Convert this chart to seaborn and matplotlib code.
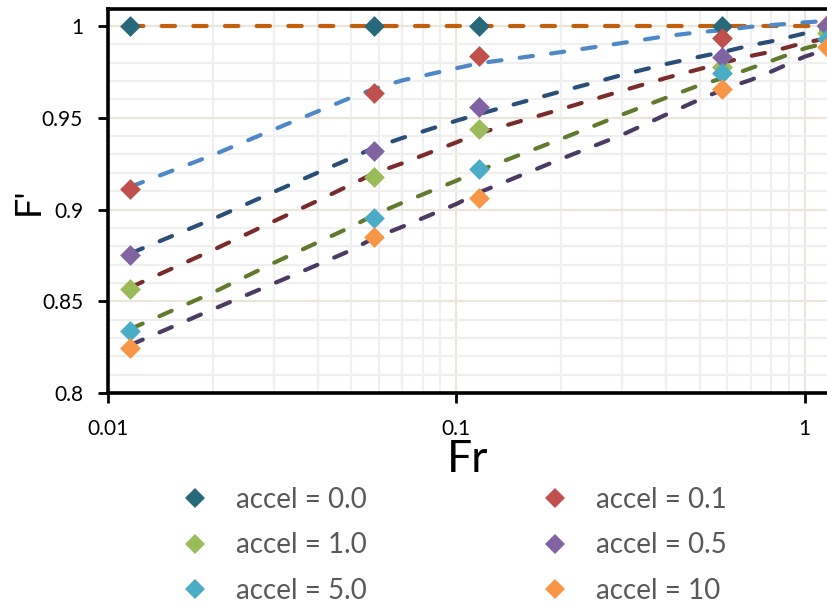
import matplotlib
matplotlib.use("Agg")
import matplotlib.pyplot as plt
from matplotlib.lines import Line2D
from matplotlib.ticker import MultipleLocator, LogLocator, NullFormatter
import seaborn as sns
import pandas as pd

# ---- data ----
fr = [0.0116, 0.058, 0.116, 0.58, 1.16]
series_names = ["accel = 0.0", "accel = 0.1", "accel = 1.0", "accel = 0.5", "accel = 5.0", "accel = 10"]
acc_00 = [1.0, 1.0, 1.0, 1.0, 1.0]
acc_01 = [0.9112, 0.9633, 0.9835, 0.9936, 1.0005]
acc_10 = [0.8566, 0.9179, 0.9437, 0.9778, 0.9960]
acc_05 = [0.8750, 0.9319, 0.9557, 0.9829, 1.0000]
acc_50 = [0.8339, 0.8952, 0.9222, 0.9744, 0.9930]
acc_100 = [0.8244, 0.8848, 0.9063, 0.9655, 0.9888]

# trend curves (at these Fr values)
trend_fr = [0.0116, 0.02, 0.03, 0.04, 0.05, 0.058, 0.07, 0.1, 0.116, 0.2, 0.3,
            0.4, 0.5, 0.6, 0.7, 0.8, 1.0, 1.16]
trend_00 = [1.0] * 18
trend_01 = [0.9124, 0.9297, 0.9437, 0.9535, 0.9611, 0.9658, 0.9704, 0.9770, 0.9797, 0.9858, 0.9908,
            0.9945, 0.9967, 0.9980, 0.9996, 1.0005, 1.0020, 1.0028]
trend_05 = [0.8761, 0.8948, 0.9097, 0.9201, 0.9281, 0.9337, 0.9390, 0.9484, 0.9520, 0.9644, 0.9734,
            0.9793, 0.9833, 0.9864, 0.9895, 0.9916, 0.9960, 0.9982]
trend_10 = [0.8576, 0.8779, 0.8937, 0.9048, 0.9137, 0.9197, 0.9252, 0.9366, 0.9415, 0.9547, 0.9648,
            0.9717, 0.9766, 0.9806, 0.9837, 0.9860, 0.9909, 0.9933]
trend_50 = [0.8349, 0.8547, 0.8710, 0.8821, 0.8906, 0.8970, 0.9037, 0.9157, 0.9212, 0.9385, 0.9518,
            0.9609, 0.9678, 0.9724, 0.9770, 0.9809, 0.9878, 0.9909]
trend_100 = [0.8262, 0.8456, 0.8598, 0.8699, 0.8779, 0.8845, 0.8906, 0.9030, 0.9092, 0.9276, 0.9408,
             0.9517, 0.9600, 0.9664, 0.9706, 0.9751, 0.9833, 0.9873]

x_ticks = [0.01, 0.1, 1]
x_tick_labels = ["0.01", "0.1", "1"]
y_ticks = [0.8, 0.85, 0.9, 0.95, 1.0]
y_tick_labels = ["0.8", "0.85", "0.9", "0.95", "1"]

marker_colors = ["#27697A", "#C0504D", "#9BBB59", "#8064A2", "#4BACC6", "#F79646"]
trend_colors = ["#C0600F", "#4F88C6", "#7A2B2B", "#2B4E78", "#627A2E", "#4B3A62"]

marker_vals = [acc_00, acc_01, acc_10, acc_05, acc_50, acc_100]
trend_vals = [trend_00, trend_01, trend_10, trend_05, trend_50, trend_100]

# ---- styling ----
sns.set_theme(style="white")
plt.rcParams["font.family"] = ["Lato", "DejaVu Sans"]

W, H = 827, 606
fig = plt.figure(figsize=(W / 100, H / 100), dpi=100)
ax = fig.add_axes([108 / W, 1 - 393 / H, (W - 108) / W, (393 - 9) / H])

# trend lines
for name, vals, col in zip(series_names, trend_vals, trend_colors):
    df = pd.DataFrame({"Fr": trend_fr, "F": vals})
    sns.lineplot(data=df, x="Fr", y="F", color=col, lw=3.0, ax=ax,
                 linestyle=(0, (3.2, 4.4)), dash_capstyle="round",
                 legend=False, zorder=3, estimator=None, sort=False)

# markers
for name, vals, col in zip(series_names, marker_vals, marker_colors):
    df = pd.DataFrame({"Fr": fr, "F": vals})
    sns.scatterplot(data=df, x="Fr", y="F", color=col, marker="D", s=112,
                    linewidth=0, ax=ax, legend=False, zorder=4, clip_on=True)

ax.set_xscale("log")
ax.set_xlim(0.01, 1.16)
ax.set_ylim(0.8, 1.0093)

ax.set_xticks(x_ticks)
ax.set_xticklabels(x_tick_labels)
ax.set_yticks(y_ticks)
ax.set_yticklabels(y_tick_labels)
ax.xaxis.set_minor_locator(LogLocator(base=10, subs=[2, 3, 4, 5, 6, 7, 8, 9]))
ax.xaxis.set_minor_formatter(NullFormatter())
ax.yaxis.set_minor_locator(MultipleLocator(0.01))

ax.set_axisbelow(True)
ax.grid(which="minor", color="#EFEFEF", lw=1.6, zorder=0)
ax.grid(which="major", color="#EAE6DA", lw=1.6, zorder=0)

ax.tick_params(which="major", direction="out", length=7, width=2, colors="black",
               labelsize=15, left=True, bottom=True)
ax.tick_params(axis="x", which="major", pad=12)
ax.tick_params(axis="y", which="major", pad=11)
ax.tick_params(which="minor", length=0)

for side in ["left", "bottom", "top"]:
    ax.spines[side].set_visible(True)
    ax.spines[side].set_color("black")
    ax.spines[side].set_linewidth(2.6)
ax.spines["right"].set_visible(False)

ax.set_xlabel("Fr", fontsize=32, labelpad=0, color="black")
ax.set_ylabel("F'", fontsize=26, color="black")
ax.yaxis.set_label_coords(-0.088, 0.5)

# legend (2 columns, row order as in reference)
handles = [Line2D([0], [0], marker="D", color="none", markerfacecolor=c,
                  markeredgewidth=0, markersize=10.6, linestyle="none")
           for c in marker_colors]
order = [0, 2, 4, 1, 3, 5]
leg = fig.legend([handles[i] for i in order], [series_names[i] for i in order],
                 ncol=2, loc="upper left", bbox_to_anchor=(181 / W, 1 - 487 / H),
                 frameon=False, fontsize=20, handlelength=1.0, handletextpad=0.97,
                 columnspacing=6.3, labelspacing=0.7, borderpad=0, borderaxespad=0)
for t in leg.get_texts():
    t.set_color("#595959")

fig.savefig("out.png", dpi=100)
